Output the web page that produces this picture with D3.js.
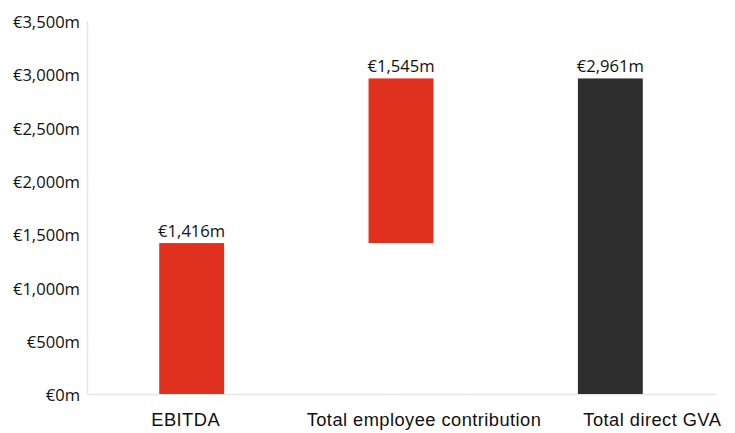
<!DOCTYPE html>
<html>
<head>
<meta charset="utf-8">
<script src="https://cdn.jsdelivr.net/npm/d3@7"></script>
<style>
  body { margin: 0; background: #fff; }
  svg { display: block; }
</style>
</head>
<body>
<svg id="chart" width="735" height="433"></svg>
<script>
// Waterfall steps: EBITDA plus employee contribution make up total direct GVA
const categories = ["EBITDA", "Total employee contribution", "Total direct GVA"];
const stepValues = [1416, 1545, 2961];
const isTotal = [false, false, true];
const yTicks = [0, 500, 1000, 1500, 2000, 2500, 3000, 3500];

// Horizontal nudge of each category label relative to its bar centre (px)
const labelShift = [-6, 23, 42];

const svg = d3.select("#chart");
const margin = { left: 87, right: 20, top: 21, bottom: 39 };
const W = 735, H = 433;

const x = d3.scaleBand()
  .domain(categories)
  .range([margin.left, W - margin.right])
  .paddingInner(0.69)
  .paddingOuter(0.345);

const y = d3.scaleLinear()
  .domain([0, 3500])
  .range([H - margin.bottom, margin.top]);

// Compute floating bar extents
let running = 0;
const bars = categories.map((c, i) => {
  let y0, y1;
  if (isTotal[i]) { y0 = 0; y1 = stepValues[i]; running = stepValues[i]; }
  else { y0 = running; y1 = running + stepValues[i]; running = y1; }
  return { cat: c, v: stepValues[i], y0, y1, total: isTotal[i] };
});

const fmt = v => "€" + d3.format(",")(v) + "m";

// Axes
const yAxis = d3.axisLeft(y).tickValues(yTicks).tickSize(0).tickPadding(7).tickFormat(fmt);
const gy = svg.append("g").attr("transform", `translate(${margin.left},0)`).call(yAxis);
gy.select(".domain").attr("stroke", "#e6e6e6").attr("stroke-width", 1.5);
gy.selectAll("text")
  .attr("font-family", "'Open Sans', sans-serif")
  .attr("font-size", 16.6)
  .attr("dy", "0.4em")
  .attr("fill", "#111");

const xAxis = d3.axisBottom(x).tickSize(0).tickPadding(19);
const gx = svg.append("g").attr("transform", `translate(0,${y(0)})`).call(xAxis);
gx.select(".domain").attr("stroke", "#e6e6e6").attr("stroke-width", 1.5);
gx.selectAll("text")
  .attr("x", (d, i) => labelShift[i])
  .attr("font-family", "'Liberation Sans', Arial, sans-serif")
  .attr("font-size", 18.3)
  .attr("letter-spacing", "0.45px")
  .attr("fill", "#111");

// Bars
svg.append("g").selectAll("rect")
  .data(bars)
  .join("rect")
  .attr("x", d => x(d.cat))
  .attr("width", x.bandwidth())
  .attr("y", d => y(d.y1))
  .attr("height", d => y(d.y0) - y(d.y1))
  .attr("fill", d => d.total ? "#2e2e2e" : "#e0311f");

// Value labels
svg.append("g").selectAll("text")
  .data(bars)
  .join("text")
  .attr("x", d => x(d.cat) + x.bandwidth() / 2)
  .attr("y", d => y(d.y1) - 6)
  .attr("text-anchor", "middle")
  .attr("font-family", "'Open Sans', sans-serif")
  .attr("font-size", 16.6)
  .attr("fill", "#111")
  .text(d => fmt(d.v));
</script>
</body>
</html>
